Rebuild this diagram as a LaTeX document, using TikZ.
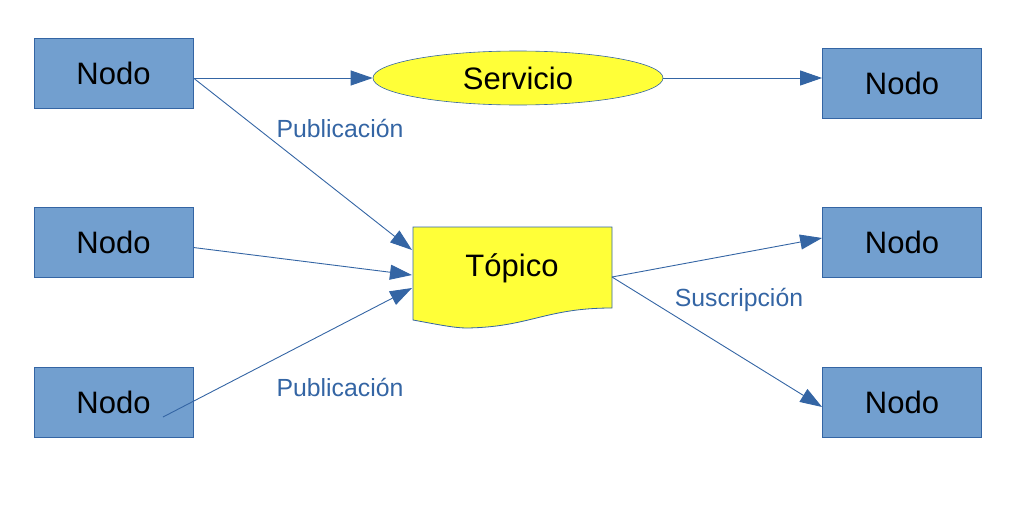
\documentclass[tikz,border=0pt]{standalone}
\usepackage{fontspec}
\setmainfont{Liberation Sans}
\usetikzlibrary{arrows.meta,shapes.geometric}

\definecolor{nodeblue}{HTML}{729FCF}
\definecolor{lineblue}{HTML}{3465A4}
\definecolor{topicyellow}{HTML}{FFFF38}

\tikzset{
  nodobox/.style={draw=lineblue, line width=0.8pt, fill=nodeblue,
    minimum width=159pt, minimum height=70pt, inner sep=0pt,
    font=\fontsize{31}{36}\selectfont},
  servbox/.style={ellipse, draw=lineblue, line width=0.6pt, fill=topicyellow,
    minimum width=290pt, minimum height=54pt, inner sep=0pt,
    font=\fontsize{31}{36}\selectfont},
  conn/.style={draw=lineblue, line width=0.9pt,
    -{Triangle[length=22pt,width=15pt]}},
  tag/.style={text=lineblue, anchor=base, font=\fontsize{24.8}{29}\selectfont}
}

\begin{document}
\begin{tikzpicture}[x=1pt,y=-1pt]
            \useasboundingbox (0,0) rectangle (1034,506);

            % Nodes on the left and on the right
            \node[nodobox] (izq1) at (113.5,73) {Nodo};
            \node[nodobox] (izq2) at (113.5,242.5) {Nodo};
            \node[nodobox] (izq3) at (113.5,402) {Nodo};
            \node[nodobox] (der1) at (902,83) {Nodo};
            \node[nodobox] (der2) at (902,242.5) {Nodo};
            \node[nodobox] (der3) at (902,402) {Nodo};

            % Service
            \node[servbox] (servicio) at (518,78) {Servicio};

            % Topic, a document shape with a wavy bottom
            \draw[draw=lineblue, line width=0.8pt, fill=topicyellow]
                (413,227) -- (612,227) -- (612,308)
                .. controls (545,308) and (530,327) .. (467,328)
                .. controls (455,328) and (440,325) .. (413,320) -- cycle;
            \node[font=\fontsize{31}{36}\selectfont] (topico) at (512,268) {Tópico};
            \coordinate (ent1) at (412,250);
            \coordinate (ent2) at (412,275);
            \coordinate (ent3) at (412,288);
            \coordinate (sal) at (612,277);
            \coordinate (ini3) at (163,417);

            % Connectors
            \draw[conn] ([yshift=-5pt]izq1.east) -- (servicio.west);
            \draw[conn] (servicio.east) -- (servicio.east -| der1.west);
            \draw[conn] ([yshift=-5pt]izq1.east) -- (ent1);
            \draw[conn] ([yshift=-5pt]izq2.east) -- (ent2);
            \draw[conn] (ini3) -- (ent3);
            \draw[conn] (sal) -- ([yshift=4.5pt]der2.west);
            \draw[conn] (sal) -- ([yshift=-5pt]der3.west);

            % Labels
            \node[tag] (pub1) at (340,137) {Publicación};
            \node[tag] (pub2) at (340,396) {Publicación};
            \node[tag] (sus) at (739,306) {Suscripción};
        \end{tikzpicture}
\end{document}
